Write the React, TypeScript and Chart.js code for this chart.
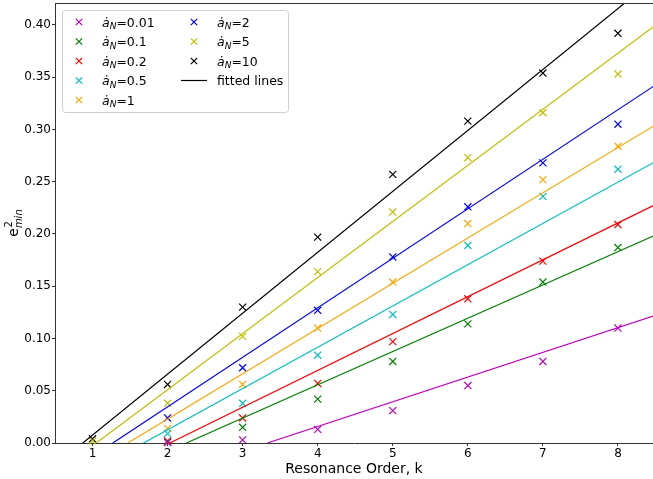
import React, { useEffect, useRef } from 'react';
import { Chart, registerables } from 'chart.js';
Chart.register(...registerables);

const K = [1, 2, 3, 4, 5, 6, 7, 8];
const LABELS = ['0.01', '0.1', '0.2', '0.5', '1', '2', '5', '10'];
const COLORS = ['#bf00bf', '#008000', '#ff0000', '#00bfbf', '#ffa500', '#0000ff', '#bfbf00', '#000000'];

const E_001 = [null, 0.0005, 0.003, 0.013, 0.031, 0.055, 0.078, 0.110];
const E_01 = [null, 0.001, 0.015, 0.042, 0.078, 0.114, 0.154, 0.187];
const E_02 = [null, 0.002, 0.024, 0.057, 0.097, 0.138, 0.174, 0.209];
const E_05 = [null, 0.009, 0.038, 0.084, 0.123, 0.189, 0.236, 0.262];
const E_1 = [null, 0.014, 0.056, 0.110, 0.154, 0.210, 0.252, 0.284];
const E_2 = [null, 0.024, 0.072, 0.127, 0.178, 0.226, 0.268, 0.305];
const E_5 = [0.002, 0.038, 0.102, 0.164, 0.221, 0.273, 0.316, 0.353];
const E_10 = [0.004, 0.056, 0.130, 0.197, 0.257, 0.308, 0.354, 0.392];
const SERIES = [E_001, E_01, E_02, E_05, E_1, E_2, E_5, E_10];

// fitted lines: e^2 = slope * (k - k0)
const FIT_SLOPE = [0.02365, 0.03185, 0.03527, 0.03949, 0.0433, 0.04738, 0.05366, 0.0583];
const FIT_K0 = [3.33, 2.25, 2.03, 1.68, 1.47, 1.27, 1.05, 0.87];
const FIT_KEND = 9;

const X_MIN = 0.5;
const X_MAX = 8.467;
const Y_MIN = 0;
const Y_MAX = 0.421;

const FONT = '"DejaVu Sans", sans-serif';

function drawCross(ctx: CanvasRenderingContext2D, x: number, y: number, h: number, color: string) {
  ctx.save();
  ctx.strokeStyle = color;
  ctx.lineWidth = 1.2;
  ctx.beginPath();
  ctx.moveTo(x - h, y - h);
  ctx.lineTo(x + h, y + h);
  ctx.moveTo(x - h, y + h);
  ctx.lineTo(x + h, y - h);
  ctx.stroke();
  ctx.restore();
}

function drawANLabel(ctx: CanvasRenderingContext2D, x: number, y: number, value: string) {
  ctx.save();
  ctx.fillStyle = '#000';
  ctx.textBaseline = 'alphabetic';
  ctx.textAlign = 'left';
  const base = y + 4.5;
  ctx.font = `italic 12.5px ${FONT}`;
  ctx.fillText('ȧ', x, base);
  let w = ctx.measureText('ȧ').width;
  ctx.font = `italic 9px ${FONT}`;
  ctx.fillText('N', x + w, base + 2.8);
  w += ctx.measureText('N').width;
  ctx.font = `12.5px ${FONT}`;
  ctx.fillText('=' + value, x + w, base);
  ctx.restore();
}

const decorPlugin = {
  id: 'decor',
  afterDraw(chart: any) {
    const ctx: CanvasRenderingContext2D = chart.ctx;
    const a = chart.chartArea;
    // top spine
    ctx.save();
    ctx.strokeStyle = '#333';
    ctx.lineWidth = 1;
    ctx.beginPath();
    ctx.moveTo(a.left, a.top + 0.5);
    ctx.lineTo(a.right, a.top + 0.5);
    ctx.stroke();
    ctx.restore();

    // legend box
    ctx.save();
    const bx = 62.5, by = 10.5, bw = 226, bh = 102, r = 3;
    ctx.beginPath();
    ctx.moveTo(bx + r, by);
    ctx.lineTo(bx + bw - r, by);
    ctx.quadraticCurveTo(bx + bw, by, bx + bw, by + r);
    ctx.lineTo(bx + bw, by + bh - r);
    ctx.quadraticCurveTo(bx + bw, by + bh, bx + bw - r, by + bh);
    ctx.lineTo(bx + r, by + bh);
    ctx.quadraticCurveTo(bx, by + bh, bx, by + bh - r);
    ctx.lineTo(bx, by + r);
    ctx.quadraticCurveTo(bx, by, bx + r, by);
    ctx.closePath();
    ctx.fillStyle = 'rgba(255,255,255,0.85)';
    ctx.fill();
    ctx.strokeStyle = '#d0d0d0';
    ctx.lineWidth = 1;
    ctx.stroke();
    ctx.restore();

    const rows = [22, 41.5, 61, 80.5, 100];
    for (let i = 0; i < 5; i++) {
      drawCross(ctx, 79, rows[i], 3.2, COLORS[i]);
      drawANLabel(ctx, 102, rows[i], LABELS[i]);
    }
    for (let i = 5; i < 8; i++) {
      drawCross(ctx, 194, rows[i - 5], 3.2, COLORS[i]);
      drawANLabel(ctx, 217, rows[i - 5], LABELS[i]);
    }
    ctx.save();
    ctx.strokeStyle = '#000';
    ctx.lineWidth = 1.2;
    ctx.beginPath();
    ctx.moveTo(181, rows[3]);
    ctx.lineTo(207, rows[3]);
    ctx.stroke();
    ctx.font = `12.5px ${FONT}`;
    ctx.fillStyle = '#000';
    ctx.textBaseline = 'alphabetic';
    ctx.fillText('fitted lines', 217, rows[3] + 4.5);
    ctx.restore();

    // x axis title
    ctx.save();
    ctx.font = `14px ${FONT}`;
    ctx.fillStyle = '#000';
    ctx.textAlign = 'center';
    ctx.textBaseline = 'alphabetic';
    ctx.fillText('Resonance Order, k', (a.left + a.right) / 2, 473);
    ctx.restore();

    // y axis title: e^2_min
    ctx.save();
    ctx.translate(18, (a.top + a.bottom) / 2);
    ctx.rotate(-Math.PI / 2);
    ctx.fillStyle = '#000';
    ctx.textBaseline = 'alphabetic';
    ctx.textAlign = 'left';
    ctx.font = `14px ${FONT}`;
    const ew = ctx.measureText('e').width;
    ctx.font = `italic 10px ${FONT}`;
    const mw = ctx.measureText('min').width;
    const start = -(ew + mw) / 2;
    ctx.font = `14px ${FONT}`;
    ctx.fillText('e', start, 0);
    ctx.font = `10px ${FONT}`;
    ctx.fillText('2', start + ew + 0.5, -6.5);
    ctx.font = `italic 10px ${FONT}`;
    ctx.fillText('min', start + ew, 3.5);
    ctx.restore();
  },
};

function zeroPad(s: any) {
  s.paddingTop = 0;
  s.paddingBottom = 0;
  s.paddingLeft = 0;
  s.paddingRight = 0;
}

export default function App() {
  const ref = useRef<HTMLCanvasElement | null>(null);
  useEffect(() => {
    if (!ref.current) return;
    const datasets: any[] = [];
    for (let i = 0; i < SERIES.length; i++) {
      datasets.push({
        label: 'fit ' + LABELS[i],
        data: [
          { x: FIT_K0[i], y: 0 },
          { x: FIT_KEND, y: FIT_SLOPE[i] * (FIT_KEND - FIT_K0[i]) },
        ],
        showLine: true,
        borderColor: COLORS[i],
        borderWidth: 1.2,
        pointRadius: 0,
        pointHoverRadius: 0,
        fill: false,
      });
    }
    for (let i = 0; i < SERIES.length; i++) {
      const pts = K.map((k, j) => ({ x: k, y: SERIES[i][j] })).filter((p) => p.y !== null);
      datasets.push({
        label: 'ȧN=' + LABELS[i],
        data: pts,
        showLine: false,
        pointStyle: 'crossRot',
        pointRadius: 5,
        pointBorderWidth: 1.2,
        borderColor: COLORS[i],
        backgroundColor: COLORS[i],
        clip: false,
      });
    }
    const chart = new Chart(ref.current, {
      type: 'scatter',
      data: { datasets },
      options: {
        animation: false,
        responsive: false,
        maintainAspectRatio: false,
        events: [],
        layout: { autoPadding: false, padding: { top: 3, right: 0, left: 0, bottom: 0 } },
        plugins: { legend: { display: false }, tooltip: { enabled: false } },
        scales: {
          x: {
            type: 'linear',
            min: X_MIN,
            max: X_MAX,
            afterFit: (s: any) => { s.height = 36; zeroPad(s); },
            ticks: { stepSize: 1, includeBounds: false, color: '#000', padding: 1, maxRotation: 0, font: { family: FONT, size: 12 } },
            grid: { drawOnChartArea: false, drawTicks: true, tickLength: 3, color: '#333' },
            border: { display: true, color: '#333', width: 1 },
          },
          y: {
            type: 'linear',
            min: Y_MIN,
            max: Y_MAX,
            afterFit: (s: any) => { s.width = 55; zeroPad(s); },
            ticks: {
              stepSize: 0.05,
              includeBounds: false,
              color: '#000',
              padding: 1,
              font: { family: FONT, size: 12 },
              callback: (v: any) => Number(v).toFixed(2),
            },
            grid: { drawOnChartArea: false, drawTicks: true, tickLength: 3, color: '#333' },
            border: { display: true, color: '#333', width: 1 },
          },
        },
      },
      plugins: [decorPlugin],
    });
    return () => chart.destroy();
  }, []);
  return (
    <div style={{ position: 'absolute', left: 0, top: 0, width: 653, height: 479, background: '#fff' }}>
      <canvas ref={ref} width={653} height={479} />
    </div>
  );
}
